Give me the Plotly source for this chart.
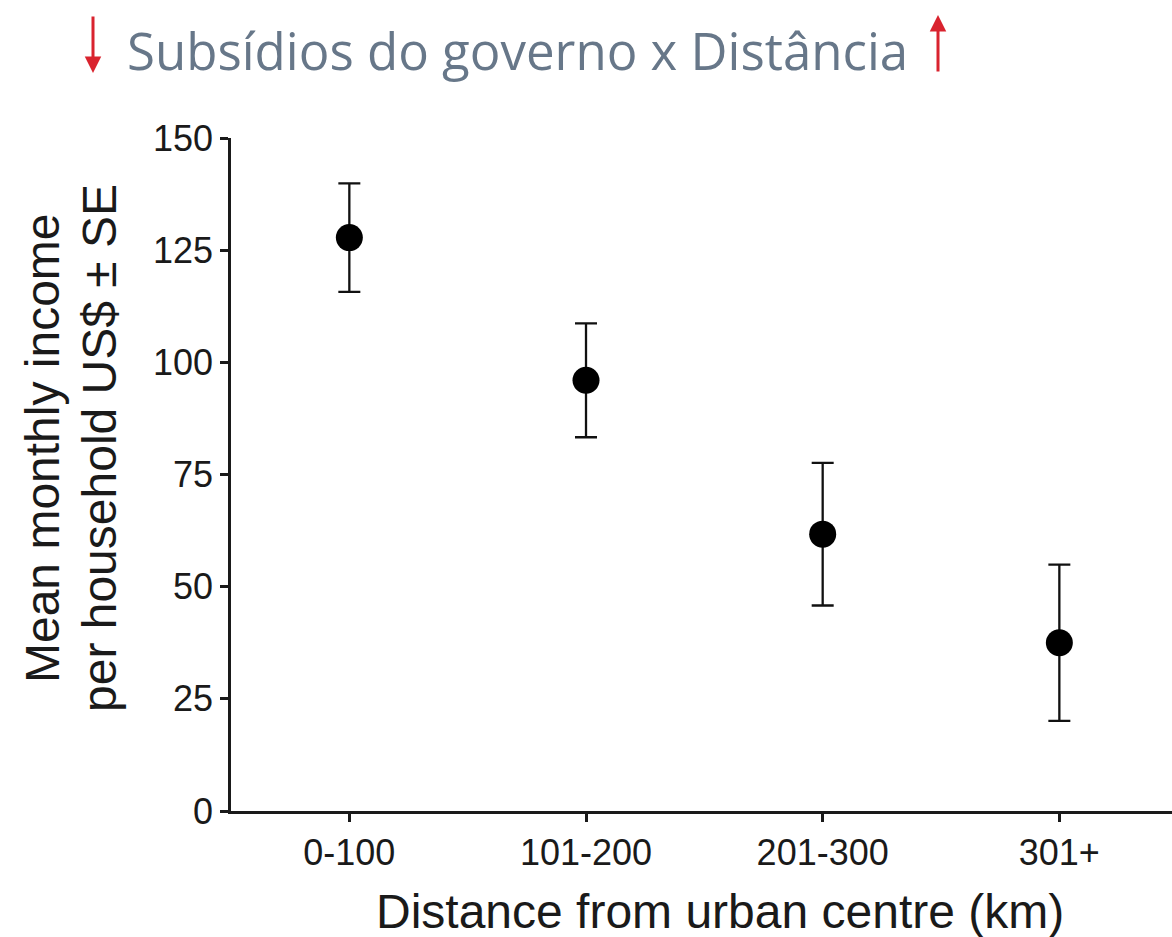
import plotly.graph_objects as go

# Mean monthly household income by distance band (US$), with standard error
distance_bands = ["0-100", "101-200", "201-300", "301+"]
mean_income = [127.8, 96.0, 61.7, 37.5]
std_error = [12.1, 12.7, 15.9, 17.4]
y_ticks = [0, 25, 50, 75, 100, 125, 150]

W, H = 1172, 937
M_L, M_R, M_T, M_B = 231, 0, 138, 126
plot_w = W - M_L - M_R
plot_h = H - M_T - M_B


def px_to_paper(px, py):
    """Convert page pixel coordinates to paper coordinates of the plot area."""
    return (px - M_L) / plot_w, (H - M_B - py) / plot_h


x_idx = list(range(len(distance_bands)))

fig = go.Figure(
    go.Scatter(
        x=x_idx,
        y=mean_income,
        mode="markers",
        marker=dict(size=27, color="#000000"),
        error_y=dict(
            type="data",
            array=std_error,
            visible=True,
            color="#111111",
            thickness=2.3,
            width=11,
        ),
        showlegend=False,
        cliponaxis=False,
    )
)

axis_font = dict(family="Liberation Sans, Arial, sans-serif", size=36, color="#1a1a1a")

fig.update_xaxes(
    range=[-0.5, 3.476],
    tickvals=x_idx,
    ticktext=distance_bands,
    showline=True,
    linecolor="#1a1a1a",
    linewidth=2.5,
    ticks="outside",
    ticklen=8,
    tickwidth=2.5,
    tickcolor="#1a1a1a",
    tickfont=axis_font,
    showgrid=False,
    zeroline=False,
)
fig.update_yaxes(
    range=[0, 150],
    tickvals=y_ticks,
    showline=True,
    linecolor="#1a1a1a",
    linewidth=2.5,
    ticks="outside",
    ticklen=8,
    tickwidth=2.5,
    tickcolor="#1a1a1a",
    tickfont=axis_font,
    showgrid=False,
    zeroline=False,
)

title_font = dict(family="Liberation Sans, Arial, sans-serif", size=48, color="#1a1a1a")

annotations = []

# X axis title
ax_x, ax_y = px_to_paper(720, 911)
annotations.append(dict(
    text="Distance from urban centre (km)", x=ax_x, y=ax_y, xref="paper", yref="paper",
    xanchor="center", yanchor="middle", showarrow=False, font=title_font,
))

# Y axis title, two lines
for txt, cx in [("Mean monthly income", 42), ("per household US$ ± SE", 99)]:
    px, py = px_to_paper(cx, 448)
    annotations.append(dict(
        text=txt, x=px, y=py, xref="paper", yref="paper", textangle=-90,
        xanchor="center", yanchor="middle", showarrow=False, font=title_font,
    ))

# Heading
hx, hy = px_to_paper(125, 50)
annotations.append(dict(
    text="Subsídios do governo x Distância", x=hx, y=hy, xref="paper", yref="paper",
    xanchor="left", yanchor="middle", showarrow=False,
    font=dict(family="Open Sans, Noto Sans, sans-serif", size=51, color="#677789"),
))

# Red arrows flanking the heading
arrow_red = "#d9232e"
for tip_x, tip_y, tail_dy in [(93, 73, -58), (938, 15, 58)]:
    tx, ty = px_to_paper(tip_x, tip_y)
    annotations.append(dict(
        text="", x=tx, y=ty, xref="paper", yref="paper",
        showarrow=True, ax=0, ay=tail_dy, axref="pixel", ayref="pixel",
        arrowhead=2, arrowsize=1.1, arrowwidth=3, arrowcolor=arrow_red,
    ))

fig.update_layout(
    width=W,
    height=H,
    margin=dict(l=M_L, r=M_R, t=M_T, b=M_B),
    paper_bgcolor="white",
    plot_bgcolor="white",
    annotations=annotations,
)

fig.write_html("out.html")
